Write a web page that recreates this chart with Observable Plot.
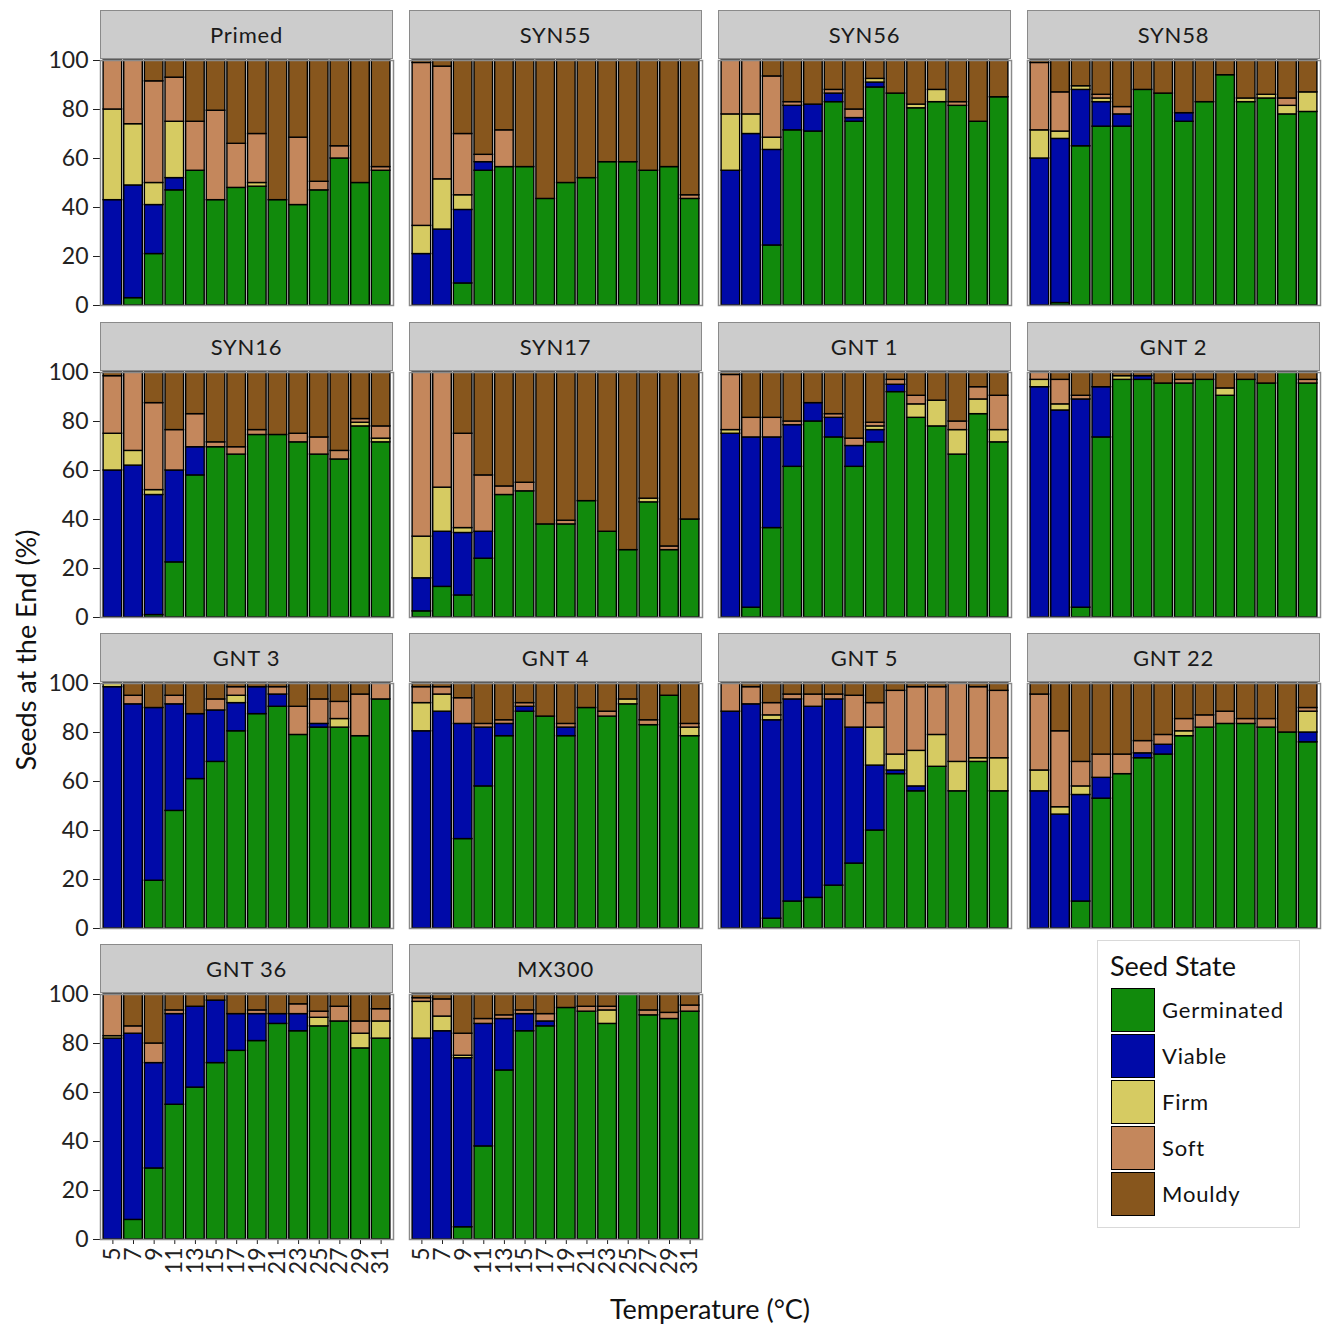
<!DOCTYPE html>
<html><head><meta charset="utf-8">
<script src="https://cdn.jsdelivr.net/npm/d3@7"></script>
<script src="https://cdn.jsdelivr.net/npm/@observablehq/plot@0.6"></script>
<style>
body{margin:0;background:#fff;font-family:Lato,"Open Sans",sans-serif;}
#root{position:relative;width:1329px;height:1327px;overflow:hidden;}
.strip{position:absolute;background:#cccccc;border:1.5px solid #8a8a8a;box-sizing:border-box;display:flex;align-items:center;justify-content:center;font-size:22px;letter-spacing:0.8px;color:#1a1a1a;}
.title{position:absolute;font-size:27px;color:#111;white-space:nowrap;}
.legend{position:absolute;left:1097px;top:940px;width:203px;height:288px;border:1px solid #d9d9d9;box-sizing:border-box;}
.legend .lt{position:absolute;left:12px;top:8px;font-size:27px;color:#111;}
.legend .key{position:absolute;left:13px;width:44px;height:44px;box-sizing:border-box;border:1.5px solid #000;}
.legend .kl{position:absolute;left:64px;font-size:22px;letter-spacing:0.8px;color:#111;}
</style></head><body><div id="root"></div>
<script>
const temps = [5,7,9,11,13,15,17,19,21,23,25,27,29,31];
const panels = ["Primed","SYN55","SYN56","SYN58","SYN16","SYN17","GNT 1","GNT 2","GNT 3","GNT 4","GNT 5","GNT 22","GNT 36","MX300"];
const states = ["Germinated","Viable","Firm","Soft","Mouldy"];
const stateColors = ["#118a0c","#000aa8","#d6cb62","#c4875c","#87561d"];

// one row per panel (same order as panels), one value per temperature
const germinated = [
  [0,3,21,47,55,43,48,48.5,43,41,47,60,50,55],
  [0,0,9,55,56.5,56.5,43.5,50,52,58.5,58.5,55,56.5,43.5],
  [0,0,24.5,71.5,71,83,75,89,86.5,80.5,83,81.5,75,85],
  [0,1,65,73,73,88,86.5,75,83,94,83,84.5,78,79],
  [0,0,1,22.5,58,69.5,66.5,74.5,74.5,71.5,66.5,64.5,78,71.5],
  [2.5,12.5,9,24,50,51.5,38,38,47.5,35,27.5,47,27.5,40],
  [0,4,36.5,61.5,80,73.5,61.5,71.5,92,81.5,78,66.5,83,71.5],
  [0,0,4,73.5,97,97,95.5,95.5,97,90.5,97,95.5,100,95.5],
  [0,0,19.5,48,61,68,80.5,87.5,90.5,79,82,82,78.5,93.5],
  [0,0,36.5,58,78.5,88.5,86.5,78.5,90,86.5,91.5,83,95,78.5],
  [0,0,4,11,12.5,17.5,26.5,40,63,56,66,56,68,56],
  [0,0,11,53,63,69.5,71,78.5,82,83.5,83.5,82,80,76],
  [0,8,29,55,62,72,77,81,88,85,87,89,78,82],
  [0,0,5,38,69,85,87,94.5,93,88,100,91.5,90,93]
];
const viable = [
  [43,46,20,5,0,0,0,0,0,0,0,0,0,0],
  [21,31,30,3.5,0,0,0,0,0,0,0,0,0,0],
  [55,70,39,10,11,3.5,1.5,2,0,0,0,0,0,0],
  [60,67,23,10,5,0,0,3.5,0,0,0,0,0,0],
  [60,62,49,37.5,11.5,0,0,0,0,0,0,0,0,0],
  [13.5,22.5,25.5,11,0,0,0,0,0,0,0,0,0,0],
  [75,69.5,37,17,7.5,8,8.5,5,3,0,0,0,0,0],
  [94,84.5,85,20.5,0,1.5,0,0,0,0,0,0,0,0],
  [98.5,91.5,70.5,43.5,26.5,21,11.5,11,5,0,1.5,0,0,0],
  [80.5,88.5,47,24,5,2,0,3.5,0,0,0,0,0,0],
  [88.5,91.5,81,82.5,78,76,55.5,26.5,1.5,2,0,0,0,0],
  [56,46.5,43.5,8.5,0,2,4,0,0,0,0,0,0,4],
  [82,76,43,37,33,25.5,15,11,4,7,0,0,0,0],
  [82,85,69,50,21,7,2,0,0,0,0,0,0,0]
];
const firm = [
  [37,25,9,23,0,0,0,1.5,0,0,0,0,0,0],
  [11.5,20.5,6,0,0,0,0,0,0,0,0,0,0,0],
  [23,8,5,0,0,0,0,1.5,0,1.5,5,0,0,0],
  [11.5,3,1.5,1.5,0,0,0,0,0,0,1.5,1.5,3.5,8],
  [15,6,2,0,0,0,0,0,0,0,0,0,1.5,1.5],
  [17,18,2,0,0,0,0,0,0,0,0,1.5,0,0],
  [1.5,0,0,0,0,0,0,1.5,0,5.5,10.5,10,6,5],
  [3,2.5,0,0,1.5,0,0,0,0,3,0,0,0,0],
  [1.5,0,0,0,0,0,3,0,0,0,0,3.5,0,0],
  [11.5,7,0,0,0,0,0,0,0,0,2,0,0,3.5],
  [0,0,2,0,0,0,0,15.5,6.5,14.5,13,12,1.5,13.5],
  [8.5,3,3.5,0,0,0,0,2,0,0,0,0,0,8.5],
  [1,0,0,0,0,0,0,0,0,0,3.5,0,6,7],
  [15,6,1,0,0,0,0,0,0,5.5,0,0,0,0]
];
const soft = [
  [20,26,41.5,18,20,36.5,18,20,0,27.5,3.5,5,0,1.5],
  [66.5,46,25,3,15,0,0,0,0,0,0,0,0,1.5],
  [22,22,25,1.5,0,1.5,3.5,0,0,0,0,1.5,0,0],
  [27.5,16,0,1.5,3,0,0,0,0,0,0,0,3,0],
  [23.5,32,35.5,16.5,13.5,2,3,2,0,3.5,7,3.5,1.5,5],
  [67,47,38.5,23,3.5,3.5,0,1.5,0,0,0,0,1.5,0],
  [22.5,8,8,1.5,0,1.5,3,1.5,2,3.5,0,3.5,5,14],
  [3,10,1.5,0,0,0,0,1.5,0,0,0,0,0,1.5],
  [0,3.5,0,3.5,0,4.5,3.5,0,3,11.5,10,7,17,6.5],
  [6.5,3,10.5,1.5,1.5,1.5,0,1.5,0,2,0,2,0,1.5],
  [11.5,7,5,2,5,2,13,10,26,26,19.5,32,29,27.5],
  [31,31,10,9.5,8,5,4,5,5,5,2,3.5,0,1.5],
  [17,3,8,1.5,0,0,0,1.5,0,4,2.5,6,5,5],
  [1.5,7,9,2,1.5,1.5,3,0,2,1.5,0,2,2.5,2.5]
];
const mouldy = [
  [0,0,8.5,7,25,20.5,34,30,57,31.5,49.5,35,50,43.5],
  [1,2.5,30,38.5,28.5,43.5,56.5,50,48,41.5,41.5,45,43.5,55],
  [0,0,6.5,17,18,12,20,7.5,13.5,18,12,17,25,15],
  [1,13,10.5,14,19,12,13.5,21.5,17,6,15.5,14,15.5,13],
  [1.5,0,12.5,23.5,17,28.5,30.5,23.5,25.5,25,26.5,32,19,22],
  [0,0,25,42,46.5,45,62,60.5,52.5,65,72.5,51.5,71,60],
  [1,18.5,18.5,20,12.5,17,27,20.5,3,9.5,11.5,20,6,9.5],
  [0,3,9.5,6,1.5,1.5,4.5,3,3,6.5,3,4.5,0,3],
  [0,5,10,5,12.5,6.5,1.5,1.5,1.5,9.5,6.5,7.5,4.5,0],
  [1.5,1.5,6,16.5,15,8,13.5,16.5,10,11.5,6.5,15,5,16.5],
  [0,1.5,8,4.5,4.5,4.5,5,8,3,1.5,1.5,0,1.5,3],
  [4.5,19.5,32,29,29,23.5,21,14.5,13,11.5,14.5,14.5,20,10],
  [0,13,20,6.5,5,2.5,8,6.5,8,4,7,5,11,6],
  [1.5,2,16,10,8.5,6.5,8,5.5,5,5,0,6.5,7.5,4.5]
];
const yTicks = [0,20,40,60,80,100];

const series = [germinated, viable, firm, soft, mouldy];
const root = document.getElementById("root");
const colX = [100,409,718,1027];
const rowY = [10,322,633,944];
const PW = 293, PH = 245, SH = 49;

panels.forEach((name, i) => {
  const r = Math.floor(i / 4), c = i % 4;
  const x0 = colX[c], y0 = rowY[r];
  const strip = document.createElement("div");
  strip.className = "strip";
  strip.style.left = x0 + "px"; strip.style.top = y0 + "px";
  strip.style.width = PW + "px"; strip.style.height = SH + "px";
  strip.textContent = name;
  root.append(strip);

  const data = [];
  temps.forEach((t, j) => states.forEach((s, k) => {
    const v = series[k][i][j];
    if (v > 0) data.push({temp: t, state: s, value: v});
  }));
  const showY = c === 0, showX = (r === 3);
  const ml = showY ? 70 : 1, mb = showX ? 50 : 1, mt = 1, mr = 1;
  const plotTop = y0 + SH + 1;
  const chart = Plot.plot({
    width: PW + ml + mr, height: PH + mt + mb,
    marginLeft: ml, marginRight: mr, marginTop: mt, marginBottom: mb,
    style: {fontFamily: "Lato, 'Open Sans', sans-serif", fontSize: "23px", color: "#222", background: "transparent", overflow: "visible"},
    x: {type: "band", domain: temps, round: false, paddingInner: 0.1, paddingOuter: 0.15, axis: showX ? "bottom" : null, tickRotate: -90, tickSize: 5, tickPadding: 3, label: null},
    y: {domain: [0, 100], ticks: yTicks, axis: showY ? "left" : null, tickSize: 7, tickPadding: 5, label: null},
    color: {domain: states, range: stateColors},
    marks: [
      Plot.barY(data, Plot.stackY({x: "temp", y: "value", fill: "state", order: states, stroke: "#000", strokeWidth: 1.4, inset: 0})),
      Plot.frame({stroke: "#8a8a8a", strokeWidth: 1.5})
    ]
  });
  chart.style.position = "absolute";
  chart.style.left = (x0 - ml) + "px";
  chart.style.top = (plotTop - mt) + "px";
  root.append(chart);
});

const xt = document.createElement("div");
xt.className = "title"; xt.textContent = "Temperature (\u00B0C)";
xt.style.left = "710px"; xt.style.top = "1292px"; xt.style.transform = "translateX(-50%)";
root.append(xt);
const yt = document.createElement("div");
yt.className = "title"; yt.textContent = "Seeds at the End (%)";
yt.style.left = "25px"; yt.style.top = "650px"; yt.style.transform = "translate(-50%,-50%) rotate(-90deg)";
root.append(yt);

const lg = document.createElement("div");
lg.className = "legend";
const lt = document.createElement("div"); lt.className = "lt"; lt.textContent = "Seed State"; lg.append(lt);
states.forEach((s, k) => {
  const key = document.createElement("div"); key.className = "key";
  key.style.top = (47 + k * 46) + "px"; key.style.background = stateColors[k];
  lg.append(key);
  const kl = document.createElement("div"); kl.className = "kl"; kl.textContent = s;
  kl.style.top = (55 + k * 46) + "px";
  lg.append(kl);
});
root.append(lg);
</script></body></html>
